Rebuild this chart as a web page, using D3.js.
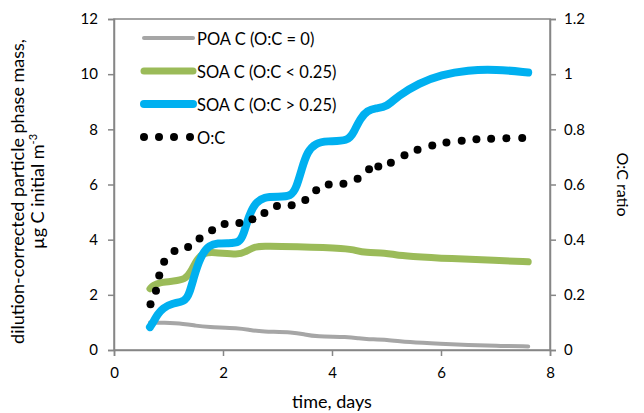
<!DOCTYPE html>
<html>
<head>
<meta charset="utf-8">
<script src="https://cdn.jsdelivr.net/npm/d3@7"></script>
<style>
  body { margin: 0; background: #fff; }
  svg text { font-family: Lato, "Open Sans", sans-serif; fill: #000; }
</style>
</head>
<body>
<div class="chart-area"></div>
<script>
// values
const poaT = [0.66, 0.9, 1.3, 1.5, 1.7, 2.3, 2.5, 2.7, 3.3, 3.5, 3.7, 4.3, 4.5, 4.65, 5.0, 5.4, 6.0, 6.5, 7.0, 7.6];
const poa  = [1.0, 0.99, 0.95, 0.88, 0.83, 0.8, 0.72, 0.67, 0.65, 0.56, 0.49, 0.48, 0.42, 0.39, 0.38, 0.28, 0.22, 0.18, 0.15, 0.13];

const soaLowT = [0.66, 0.72, 0.85, 1.1, 1.3, 1.4, 1.52, 1.65, 1.8, 2.3, 2.4, 2.55, 2.7, 3.3, 4.3, 4.45, 4.6, 5.0, 5.15, 5.4, 6.2, 7.0, 7.6];
const soaLow  = [2.22, 2.35, 2.45, 2.5, 2.55, 2.8, 3.3, 3.52, 3.55, 3.45, 3.55, 3.72, 3.77, 3.75, 3.68, 3.6, 3.53, 3.52, 3.45, 3.4, 3.31, 3.25, 3.2];

const soaHighT = [0.66, 0.72, 0.8, 0.9, 1.05, 1.3, 1.38, 1.5, 1.62, 1.75, 1.9, 2.1, 2.3, 2.38, 2.48, 2.6, 2.75, 3.0, 3.25, 3.35, 3.45, 3.55, 3.7, 3.9, 4.3, 4.4, 4.52, 4.65, 4.8, 5.0, 5.2, 5.6, 6.0, 6.5, 7.0, 7.6];
const soaHigh  = [0.83, 1.0, 1.3, 1.52, 1.68, 1.76, 2.0, 2.9, 3.5, 3.8, 3.87, 3.87, 3.88, 4.2, 4.9, 5.35, 5.55, 5.56, 5.56, 5.9, 6.6, 7.2, 7.5, 7.58, 7.56, 7.9, 8.4, 8.68, 8.77, 8.8, 9.2, 9.68, 9.98, 10.15, 10.18, 10.06];

const ocT = [0.67, 0.77, 0.83, 0.92, 1.11, 1.36, 1.57, 1.80, 2.03, 2.30, 2.54, 2.76, 2.99, 3.26, 3.51, 3.71, 3.94, 4.21, 4.47, 4.68, 4.85, 5.08, 5.33, 5.57, 5.84, 6.10, 6.38, 6.65, 6.92, 7.20, 7.49];
const oc  = [0.166, 0.215, 0.27, 0.32, 0.359, 0.373, 0.404, 0.434, 0.457, 0.46, 0.474, 0.497, 0.522, 0.525, 0.544, 0.579, 0.60, 0.603, 0.621, 0.655, 0.665, 0.679, 0.706, 0.726, 0.741, 0.752, 0.759, 0.764, 0.766, 0.768, 0.769];

const xTicks = [0, 2, 4, 6, 8];
const yTicks = [0, 2, 4, 6, 8, 10, 12];
const y2Ticks = [0, 0.2, 0.4, 0.6, 0.8, 1, 1.2];

const legendLabels = ["POA C (O:C = 0)", "SOA C (O:C < 0.25)", "SOA C (O:C > 0.25)", "O:C"];

const width = 644, height = 413;
const margin = { top: 19, right: 94, bottom: 63, left: 114 };
const innerWidth = width - margin.left - margin.right,
  innerHeight = height - margin.top - margin.bottom;
const axisColor = "#868686";

const svg = d3.select(".chart-area").append("svg")
  .attr("width", width).attr("height", height);
const g = svg.append("g")
  .attr("transform", `translate(${margin.left},${margin.top})`);

const x = d3.scaleLinear().domain([0, 8]).range([0, innerWidth]);
const y = d3.scaleLinear().domain([0, 12]).range([innerHeight, 0]);
const y2 = d3.scaleLinear().domain([0, 1.2]).range([innerHeight, 0]);

// plot frame
g.append("rect")
  .attr("width", innerWidth).attr("height", innerHeight)
  .attr("fill", "none").attr("stroke", axisColor).attr("stroke-width", 1.5);

function styleAxis(sel) {
  sel.select(".domain").attr("stroke", axisColor).attr("stroke-width", 1.5);
  sel.selectAll(".tick line").attr("stroke", axisColor).attr("stroke-width", 1.5);
  sel.selectAll(".tick text").attr("font-size", 15).attr("font-family", "Lato, sans-serif").attr("fill", "#000");
}

g.append("g").attr("transform", `translate(0,${innerHeight})`)
  .call(d3.axisBottom(x).tickValues(xTicks).tickSize(6).tickPadding(11).tickFormat(d3.format("d")))
  .call(styleAxis);
g.append("g")
  .call(d3.axisLeft(y).tickValues(yTicks).tickSize(6).tickPadding(10).tickFormat(d3.format("d")))
  .call(styleAxis);
g.append("g").attr("transform", `translate(${innerWidth},0)`)
  .call(d3.axisRight(y2).tickValues(y2Ticks).tickSize(6).tickPadding(8).tickFormat(d => d3.format("")(+d.toFixed(1))))
  .call(styleAxis);

// axis titles
svg.append("text")
  .attr("transform", `translate(${margin.left + innerWidth / 2},${height - 5}) `)
  .attr("text-anchor", "middle").attr("font-size", 18).text("time, days");

const yTitle = svg.append("text")
  .attr("transform", `translate(24,${margin.top + innerHeight / 2 + 7}) rotate(-90)`)
  .attr("text-anchor", "middle").attr("font-size", 18);
yTitle.append("tspan").attr("x", 0).attr("y", 0).text("dilution-corrected particle phase mass,");
const t2 = yTitle.append("tspan").attr("x", 0).attr("y", 20);
t2.append("tspan").text("µg C initial m");
t2.append("tspan").attr("dy", -7).attr("font-size", 11).text("-3");

svg.append("text")
  .attr("transform", `translate(617,${margin.top + innerHeight / 2}) rotate(90)`)
  .attr("text-anchor", "middle").attr("font-size", 16).text("O:C ratio");

// series lines
const line = (ts, vs) => d3.line()
  .x((d, i) => x(ts[i]))
  .y(d => y(d))
  .curve(d3.curveBasis)(vs);

const series = [
  { t: poaT, v: poa, color: "#a6a6a6", w: 4 },
  { t: soaLowT, v: soaLow, color: "#9bbb59", w: 7 },
  { t: soaHighT, v: soaHigh, color: "#00b0f0", w: 8 }
];

g.append("g").attr("fill", "none")
  .selectAll("path").data(series).enter().append("path")
  .attr("d", d => line(d.t, d.v))
  .attr("stroke", d => d.color)
  .attr("stroke-width", d => d.w)
  .attr("stroke-linecap", "round")
  .attr("stroke-linejoin", "round");

g.append("g").selectAll("circle").data(oc).enter().append("circle")
  .attr("cx", (d, i) => x(ocT[i]))
  .attr("cy", d => y2(d))
  .attr("r", 4)
  .attr("fill", "#000");

// legend
const legend = svg.append("g").attr("transform", "translate(143,38)");
const legRows = legend.selectAll("g").data(legendLabels).enter().append("g")
  .attr("transform", (d, i) => `translate(0,${i * 33})`);
legRows.each(function (d, i) {
  const row = d3.select(this);
  if (i < 3) {
    row.append("line").attr("x1", 1).attr("x2", 50)
      .attr("stroke", series[i].color).attr("stroke-width", series[i].w)
      .attr("stroke-linecap", "round");
  } else {
    row.selectAll("circle").data([1, 16, 31, 47]).enter().append("circle")
      .attr("cx", c => c).attr("r", 4).attr("fill", "#000");
  }
  row.append("text").attr("x", 54).attr("y", 6.5).attr("font-size", 16.5).text(d);
});
</script>
</body>
</html>
